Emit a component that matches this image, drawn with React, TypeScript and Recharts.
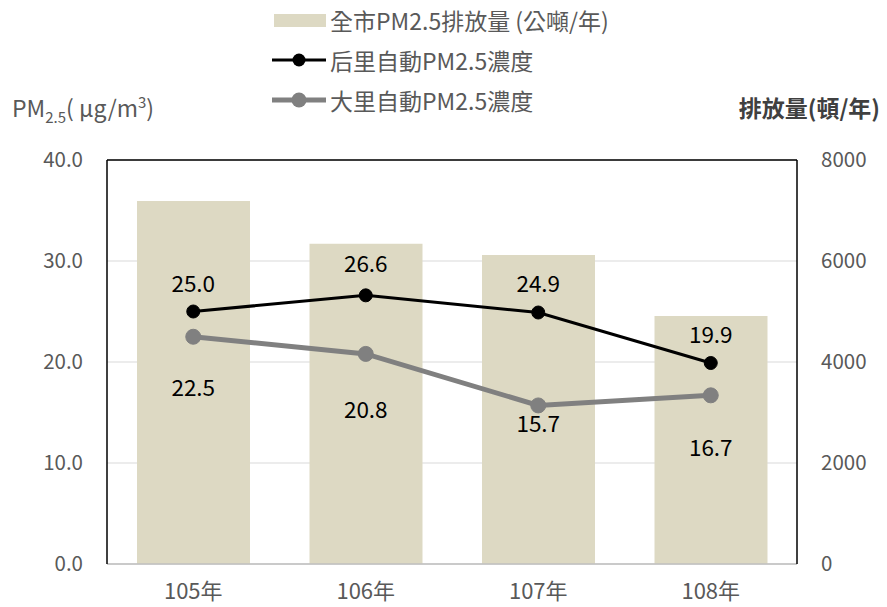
import React from 'react';
import {
  ComposedChart,
  Bar,
  Line,
  XAxis,
  YAxis,
  CartesianGrid,
  ReferenceLine,
  LabelList,
} from 'recharts';

const years = ['105年', '106年', '107年', '108年'];
const emission = [7190, 6340, 6120, 4910];
const houli = [25.0, 26.6, 24.9, 19.9];
const dali = [22.5, 20.8, 15.7, 16.7];
const leftTicks = [0, 10, 20, 30, 40];
const rightTicks = [0, 2000, 4000, 6000, 8000];

// manual label nudges, as in the original
const houliLabelDy = [-30, -33, -31, -30];
const daliLabelDy = [49, 54, 17, 51];

const data = years.map((y, i) => ({
  year: y,
  emission: emission[i],
  houli: houli[i],
  dali: dali[i],
}));

const FONT = '"Noto Sans CJK TC", "Open Sans", sans-serif';
const GREY_TEXT = '#595959';

const makeLabel = (offsets: number[]) => (props: any) => {
  const { x, y, value, index } = props;
  return (
    <text
      x={x}
      y={y + offsets[index]}
      textAnchor="middle"
      dominantBaseline="central"
      fontSize={22.5}
      fontFamily={FONT}
      fill="#000"
    >
      {Number(value).toFixed(1)}
    </text>
  );
};

const LegendRow = ({ kind, label }: { kind: 'bar' | 'black' | 'grey'; label: string }) => (
  <div style={{ display: 'flex', alignItems: 'center', height: 40 }}>
    <svg width={58} height={20} style={{ marginRight: 2 }}>
      {kind === 'bar' && <rect x={4} y={4} width={52} height={13} fill="#DDD9C3" />}
      {kind === 'black' && (
        <>
          <line x1={2} y1={10} x2={56} y2={10} stroke="#000" strokeWidth={3} />
          <circle cx={29} cy={10} r={6.5} fill="#000" />
        </>
      )}
      {kind === 'grey' && (
        <>
          <line x1={2} y1={10} x2={56} y2={10} stroke="#808080" strokeWidth={5} />
          <circle cx={29} cy={10} r={7.5} fill="#808080" />
        </>
      )}
    </svg>
    <span style={{ fontSize: 23, color: GREY_TEXT, fontFamily: FONT, whiteSpace: 'nowrap' }}>{label}</span>
  </div>
);

export default function App() {
  return (
    <div style={{ position: 'absolute', left: 0, top: 0, width: 887, height: 607, background: '#fff' }}>
      <ComposedChart
        width={887}
        height={607}
        data={data}
        margin={{ top: 160, right: 0, left: 0, bottom: 0 }}
      >
        <CartesianGrid yAxisId="left" stroke="#D9D9D9" vertical={false} />
        <XAxis
          dataKey="year"
          height={43}
          axisLine={{ stroke: '#BFBFBF', strokeWidth: 1.5 }}
          tickLine={false}
          tickMargin={13}
          tick={{ fontSize: 22, fill: GREY_TEXT, fontFamily: FONT }}
        />
        <YAxis
          yAxisId="left"
          width={107}
          domain={[0, 40]}
          ticks={leftTicks}
          axisLine={{ stroke: '#000', strokeWidth: 1.5 }}
          tickLine={false}
          tickMargin={18}
          tickFormatter={(v: number) => v.toFixed(1)}
          tick={{ fontSize: 20.5, fill: GREY_TEXT, fontFamily: FONT }}
        />
        <YAxis
          yAxisId="right"
          orientation="right"
          width={90}
          domain={[0, 8000]}
          ticks={rightTicks}
          axisLine={{ stroke: '#000', strokeWidth: 1.5 }}
          tickLine={false}
          tickMargin={18}
          tick={{ fontSize: 20.5, fill: GREY_TEXT, fontFamily: FONT, textAnchor: 'start' }}
        />
        <ReferenceLine yAxisId="left" y={40} stroke="#000" strokeWidth={1.5} />
        <Bar yAxisId="right" dataKey="emission" fill="#DDD9C3" barSize={113} isAnimationActive={false} />
        <Line
          yAxisId="left"
          dataKey="houli"
          stroke="#000"
          strokeWidth={3}
          dot={{ r: 6.5, fill: '#000', stroke: '#000', strokeWidth: 1 }}
          activeDot={false}
          isAnimationActive={false}
        >
          <LabelList dataKey="houli" content={makeLabel(houliLabelDy)} />
        </Line>
        <Line
          yAxisId="left"
          dataKey="dali"
          stroke="#808080"
          strokeWidth={5}
          dot={{ r: 7.5, fill: '#808080', stroke: '#808080', strokeWidth: 1 }}
          activeDot={false}
          isAnimationActive={false}
        >
          <LabelList dataKey="dali" content={makeLabel(daliLabelDy)} />
        </Line>
      </ComposedChart>

      <div style={{ position: 'absolute', left: 270, top: 0 }}>
        <LegendRow kind="bar" label="全市PM2.5排放量 (公噸/年)" />
        <LegendRow kind="black" label="后里自動PM2.5濃度" />
        <LegendRow kind="grey" label="大里自動PM2.5濃度" />
      </div>

      <div
        style={{
          position: 'absolute',
          left: 12,
          top: 90,
          fontSize: 23,
          color: GREY_TEXT,
          fontFamily: FONT,
          whiteSpace: 'nowrap',
        }}
      >
        PM<sub style={{ fontSize: 15 }}>2.5</sub>( μg/m<sup style={{ fontSize: 15 }}>3</sup>)
      </div>
      <div
        style={{
          position: 'absolute',
          right: 7,
          top: 90,
          fontSize: 23,
          color: '#404040',
          fontWeight: 'bold',
          fontFamily: FONT,
          whiteSpace: 'nowrap',
        }}
      >
        排放量(頓/年)
      </div>
    </div>
  );
}
